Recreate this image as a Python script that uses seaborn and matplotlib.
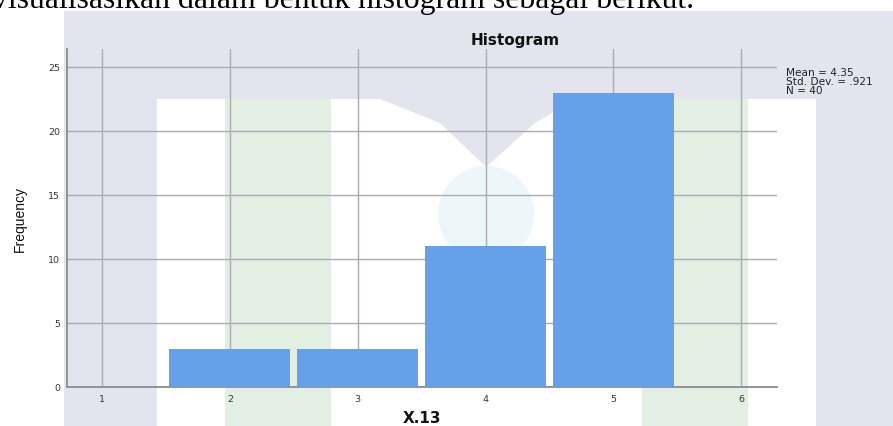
import matplotlib
matplotlib.use("Agg")
import matplotlib.pyplot as plt
import seaborn as sns
from matplotlib.patches import Ellipse, Polygon, Rectangle

W, H = 893, 427

# data
scores = [2, 3, 4, 5]
frequencies = [3, 3, 11, 23]
x_ticks = [1, 2, 3, 4, 5, 6]
y_ticks = [0, 5, 10, 15, 20, 25]
stats_lines = ["Mean = 4.35", "Std. Dev. = .921", "N = 40"]

LAVENDER = "#e4e4ee"
GREEN = "#e3efe3"
BAR = "#66a0e8"


def fx(x):
    return x / W


def fy(y):
    return 1 - y / H


def main() -> None:
    sns.set_theme(style="white")
    plt.rcParams["font.family"] = ["DejaVu Sans"]

    fig = plt.figure(figsize=(W / 100, H / 100), dpi=100)
    fig.patch.set_facecolor("white")

    # faint watermark behind the chart
    def rect(x0, y0, x1, y1, color):
        fig.add_artist(Rectangle((fx(x0), fy(y1)), fx(x1) - fx(x0), fy(y0) - fy(y1),
                                 transform=fig.transFigure, color=color, lw=0, zorder=-10))

    rect(64, 12, W, H, LAVENDER)
    rect(157, 100, 816, H, "white")
    fig.add_artist(Polygon([(fx(380), fy(100)), (fx(440), fy(124)), (fx(486), fy(168)),
                            (fx(535), fy(124)), (fx(575), fy(100))],
                           transform=fig.transFigure, color=LAVENDER, lw=0, zorder=-9))
    rect(225, 100, 331, H, GREEN)
    rect(642, 100, 748, H, GREEN)
    fig.add_artist(Ellipse((fx(486), fy(215)), 96 / W, 96 / H, transform=fig.transFigure,
                           color="#ecf6fb", lw=0, zorder=-9))

    ax = fig.add_axes([fx(67), fy(388), fx(777) - fx(67), fy(50) - fy(388)])
    ax.patch.set_alpha(0)

    sns.histplot(x=scores, weights=frequencies, discrete=True, shrink=0.945,
                 color=BAR, alpha=1, linewidth=0, ax=ax, zorder=3)

    ax.set_xlim(0.726, 6.28)
    ax.set_ylim(0, 26.4)
    ax.set_xticks(x_ticks)
    ax.set_yticks(y_ticks)
    ax.set_xlabel("")
    ax.set_ylabel("")
    ax.grid(True, color="#ababb3", linewidth=1)
    ax.set_axisbelow(True)
    for side in ["top", "right"]:
        ax.spines[side].set_visible(False)
    for side in ["left", "bottom"]:
        ax.spines[side].set_color("#8c8c90")
        ax.spines[side].set_linewidth(1.3)
    ax.tick_params(length=0, labelsize=6.8, labelcolor="#333333", pad=5)

    fig.text(fx(515), fy(40), "Histogram", ha="center", va="center",
             fontsize=11, fontweight="bold", color="#111111")
    fig.text(fx(20), fy(219), "Frequency", rotation=90, ha="center", va="center",
             fontsize=10, family=["Liberation Sans", "DejaVu Sans"], color="#111111")
    fig.text(fx(422), fy(426.5), "X.13", ha="center", va="bottom",
             fontsize=11, fontweight="bold", color="#111111")
    for i, line in enumerate(stats_lines):
        fig.text(fx(786), fy(73 + 9 * i), line, ha="left", va="center",
                 fontsize=7.6, color="#222222")

    # sentence of the surrounding document, cut off at the top edge
    caption = fig.text(fx(-8), fy(8), "visualisasikan dalam bentuk histogram sebagai berikut.",
                       ha="left", va="baseline", fontsize=20,
                       family=["Liberation Serif", "DejaVu Serif"], color="black")
    fig.canvas.draw()
    width = caption.get_window_extent().width
    caption.set_fontsize(20 * 703 / width)

    fig.savefig("out.png", dpi=100)
    plt.close(fig)


if __name__ == "__main__":
    main()
